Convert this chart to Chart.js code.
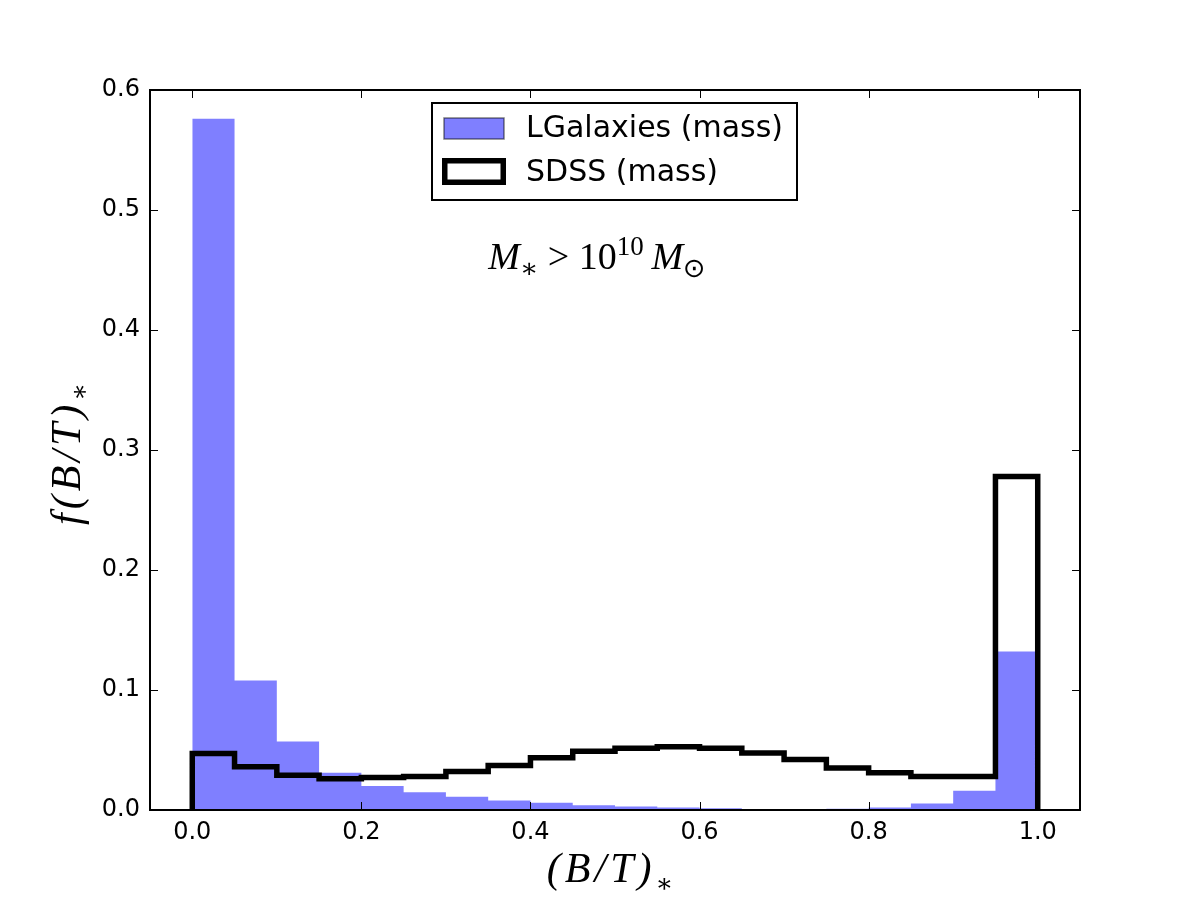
<!DOCTYPE html>
<html>
<head>
<meta charset="utf-8">
<script src="https://cdn.jsdelivr.net/npm/chart.js@4/dist/chart.umd.min.js"></script>
<style>
  html, body { margin: 0; padding: 0; background: #fff; }
  #wrap { width: 1200px; height: 900px; }
</style>
</head>
<body>
<div id="wrap"><canvas id="c" width="1200" height="900"></canvas></div>
<script>
// ---- data ----
const binEdges = [0.00,0.05,0.10,0.15,0.20,0.25,0.30,0.35,0.40,0.45,0.50,0.55,0.60,0.65,0.70,0.75,0.80,0.85,0.90,0.95,1.00];
const lgalaxiesMass = [0.576,0.108,0.057,0.031,0.020,0.0147,0.011,0.008,0.006,0.004,0.003,0.002,0.0015,0.0005,0.0004,0.001,0.002,0.0055,0.016,0.132];
const sdssMass = [0.047,0.036,0.029,0.026,0.027,0.028,0.032,0.037,0.0436,0.049,0.0514,0.0528,0.0514,0.0475,0.042,0.035,0.031,0.028,0.028,0.278];
const xTicks = [0.0,0.2,0.4,0.6,0.8,1.0];
const yTicks = [0.0,0.1,0.2,0.3,0.4,0.5,0.6];
const seriesLabels = ['LGalaxies (mass)', 'SDSS (mass)'];
const xTitle = {main: '(B/T)', sub: '\u2217'};
const yTitle = {main: 'f(B/T)', sub: '\u2217'};

// histogram outline points built from edges and values
function histPoints(vals) {
  const pts = [{x: binEdges[0], y: 0}];
  for (let i = 0; i < vals.length; i++) pts.push({x: binEdges[i], y: vals[i]});
  pts.push({x: binEdges[binEdges.length - 1], y: vals[vals.length - 1]});
  pts.push({x: binEdges[binEdges.length - 1], y: 0});
  return pts;
}

const BLUE = 'rgba(0,0,255,0.5)';
const SANS = '"DejaVu Sans", sans-serif';
const SERIF = '"Liberation Serif", "DejaVu Serif", serif';

const decorPlugin = {
  id: 'decor',
  afterDraw(chart) {
    const ctx = chart.ctx;
    const a = chart.chartArea;
    const xs = chart.scales.x, ys = chart.scales.y;
    ctx.save();
    // inward ticks
    ctx.strokeStyle = '#000';
    ctx.lineWidth = 1;
    const tl = 8;
    xTicks.forEach(v => {
      const px = Math.round(xs.getPixelForValue(v)) + 0.5;
      ctx.beginPath();
      ctx.moveTo(px, a.bottom); ctx.lineTo(px, a.bottom - tl);
      ctx.moveTo(px, a.top); ctx.lineTo(px, a.top + tl);
      ctx.stroke();
    });
    yTicks.forEach(v => {
      const py = Math.round(ys.getPixelForValue(v)) + 0.5;
      ctx.beginPath();
      ctx.moveTo(a.left, py); ctx.lineTo(a.left + tl, py);
      ctx.moveTo(a.right, py); ctx.lineTo(a.right - tl, py);
      ctx.stroke();
    });
    // frame
    ctx.lineWidth = 2;
    ctx.strokeRect(a.left, a.top, a.right - a.left, a.bottom - a.top);

    // legend
    const lx = 432, ly = 103, lw = 365, lh = 97;
    ctx.fillStyle = '#fff';
    ctx.fillRect(lx, ly, lw, lh);
    ctx.lineWidth = 2;
    ctx.strokeStyle = '#000';
    ctx.strokeRect(lx, ly, lw, lh);
    ctx.fillStyle = BLUE;
    ctx.fillRect(444, 118, 60, 21);
    ctx.strokeStyle = 'rgba(0,0,0,0.5)';
    ctx.lineWidth = 1.5;
    ctx.strokeRect(444, 118, 60, 21);
    ctx.strokeStyle = '#000';
    ctx.lineWidth = 5.5;
    ctx.strokeRect(444.75, 160.75, 58.5, 21.5);
    ctx.fillStyle = '#000';
    ctx.font = '30px ' + SANS;
    ctx.textBaseline = 'alphabetic';
    ctx.textAlign = 'left';
    ctx.fillText(chart.data.datasets[0].label, 526, 137);
    ctx.fillText(chart.data.datasets[1].label, 526, 181);

    // annotation  M_* > 10^10 M_sun
    const fs = 38;
    const parts = [
      {t: 'M', f: 'italic ' + fs + 'px ' + SERIF, dy: 0},
      {t: '\u2217', f: Math.round(fs * 0.7) + 'px ' + SERIF, dy: 8},
      {t: ' > ', f: fs + 'px ' + SERIF, dy: 0},
      {t: '10', f: fs + 'px ' + SERIF, dy: 0},
      {t: '10', f: Math.round(fs * 0.7) + 'px ' + SERIF, dy: -14},
      {t: '\u2009', f: fs + 'px ' + SERIF, dy: 0},
      {t: 'M', f: 'italic ' + fs + 'px ' + SERIF, dy: 0},
      {t: '\u2299', f: Math.round(fs * 0.7) + 'px "DejaVu Sans", sans-serif', dy: 8}
    ];
    let total = 0;
    parts.forEach(p => { ctx.font = p.f; p.w = ctx.measureText(p.t).width; total += p.w; });
    let cx = 597 - total / 2;
    parts.forEach(p => { ctx.font = p.f; ctx.fillText(p.t, cx, 269 + p.dy); cx += p.w; });

    // x-axis title
    ctx.font = 'italic 42px ' + SERIF;
    ctx.letterSpacing = '4px';
    let w1 = ctx.measureText(xTitle.main).width;
    ctx.font = '26px ' + SERIF;
    let w2 = ctx.measureText(xTitle.sub).width;
    let sx = 612 - (w1 + w2) / 2;
    ctx.font = 'italic 42px ' + SERIF;
    ctx.fillText(xTitle.main, sx, 882);
    ctx.font = '26px ' + SERIF;
    ctx.fillText(xTitle.sub, sx + w1, 892);

    // y-axis title (rotated)
    ctx.save();
    ctx.translate(66, 452);
    ctx.rotate(-Math.PI / 2);
    ctx.font = 'italic 42px ' + SERIF;
    w1 = ctx.measureText(yTitle.main).width;
    ctx.font = '26px ' + SERIF;
    w2 = ctx.measureText(yTitle.sub).width;
    sx = -(w1 + w2) / 2;
    ctx.font = 'italic 42px ' + SERIF;
    ctx.fillText(yTitle.main, sx, 14);
    ctx.font = '26px ' + SERIF;
    ctx.fillText(yTitle.sub, sx + w1, 22);
    ctx.restore();
    ctx.letterSpacing = '0px';
    ctx.restore();
  }
};

new Chart(document.getElementById('c'), {
  type: 'line',
  data: {
    datasets: [
      {
        label: seriesLabels[0],
        data: histPoints(lgalaxiesMass),
        stepped: true,
        fill: 'origin',
        backgroundColor: BLUE,
        borderWidth: 0,
        borderColor: 'rgba(0,0,0,0)',
        pointRadius: 0,
        order: 2
      },
      {
        label: seriesLabels[1],
        data: histPoints(sdssMass),
        stepped: true,
        fill: false,
        borderColor: '#000',
        borderWidth: 5.5,
        borderJoinStyle: 'miter',
        borderCapStyle: 'butt',
        pointRadius: 0,
        order: 1
      }
    ]
  },
  options: {
    responsive: false,
    animation: false,
    devicePixelRatio: 1,
    layout: { padding: { left: 0, top: 90, right: 120, bottom: 0 } },
    plugins: { legend: { display: false }, tooltip: { enabled: false } },
    scales: {
      x: {
        type: 'linear',
        min: -0.05, max: 1.05,
        afterBuildTicks: s => { s.ticks = xTicks.map(v => ({value: v})); },
        afterFit: s => { s.height = 90; },
        grid: { display: false, drawTicks: false },
        border: { display: false },
        ticks: {
          color: '#000',
          font: { family: 'DejaVu Sans', size: 24 },
          padding: 8,
          maxRotation: 0,
          callback: v => v.toFixed(1)
        }
      },
      y: {
        type: 'linear',
        min: 0, max: 0.6,
        afterBuildTicks: s => { s.ticks = yTicks.map(v => ({value: v})); },
        afterFit: s => { s.width = 150; },
        grid: { display: false, drawTicks: false },
        border: { display: false },
        ticks: {
          color: '#000',
          font: { family: 'DejaVu Sans', size: 24 },
          padding: 10,
          callback: v => v.toFixed(1)
        }
      }
    }
  },
  plugins: [decorPlugin]
});
</script>
</body>
</html>
